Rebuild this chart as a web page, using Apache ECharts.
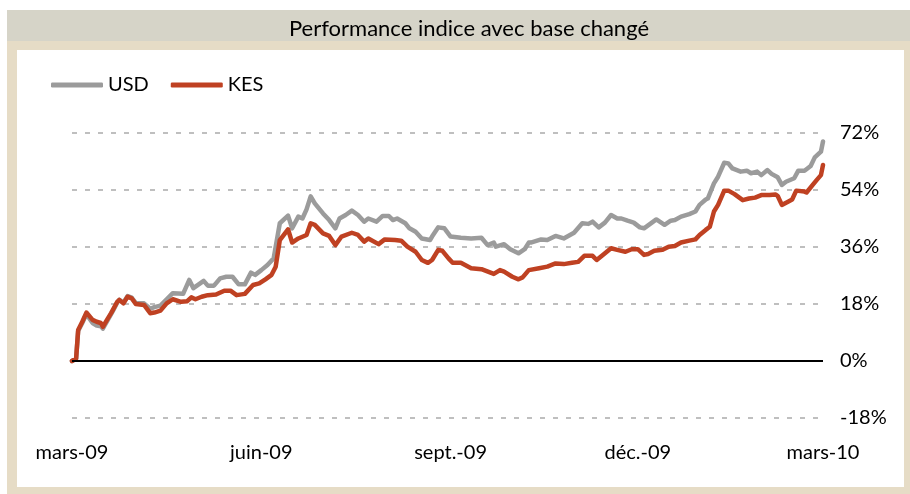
<!DOCTYPE html>
<html>
<head>
<meta charset="utf-8">
<script src="https://cdn.jsdelivr.net/npm/echarts@6/dist/echarts.min.js"></script>
<style>
html,body{margin:0;padding:0;background:#fff;}
#chart{width:910px;height:494px;}
</style>
</head>
<body>
<div id="chart"></div>
<script>
// Days since 1 March 2009, and index performance (%)
var usdDay = [0,2,3,5,7,10,12,14,15,17,19,20,22,23,25,27,29,31,35,38,40,43,46,49,54,57,59,64,66,69,72,75,78,81,84,87,89,92,95,98,101,105,107,110,112,114,116,118,122,125,128,130,133,136,139,142,144,148,151,154,156,158,162,164,167,170,174,175,178,181,184,189,194,199,202,205,206,210,213,217,220,222,223,228,231,235,239,244,248,251,253,256,259,262,265,267,270,273,276,278,281,284,288,291,293,296,300,303,305,308,309,312,314,317,319,321,325,328,330,333,335,338,340,343,345,347,351,353,356,359,361,364,365];
var usdVal = [0,0.8,9.5,12,14.8,12,11.2,11,10.2,12.5,14.8,16,18.5,19.3,18.4,20.5,20,18.3,18.2,16.5,17,17.5,19.5,21.4,21.2,25.6,23,25.3,23.8,23.8,26.1,26.6,26.6,24.2,24.2,27.9,27.2,28.7,30.3,32.4,43.5,45.9,41.9,45.6,45,47.9,52,49.8,46.6,44.5,41.9,45,46.1,47.5,46.1,44,45,44,45.8,45.8,44.5,45,43.5,41.9,40.8,38.7,38.2,39.3,42.2,41.9,39.3,38.9,38.7,38.9,36.6,37.4,36.1,36.9,35.3,34,35.3,37.4,37.4,38.4,38.2,39.5,38.7,40.5,43.5,43.3,44,42.2,43.7,46.1,45,45,44.3,43.7,42.2,41.9,43.3,44.7,43,44.3,44.5,45.6,46.4,47.2,49.3,51,51.3,56.1,58.2,62.6,62.4,60.8,59.8,60.1,59.3,59.8,58.7,60.3,59.1,58,55.6,56.6,57.7,60.1,60.1,61.6,64.3,66.1,69.3];
var kesDay = [0,2,3,5,7,10,12,14,15,17,19,20,22,23,25,27,29,31,35,38,40,43,46,49,53,56,58,60,63,66,70,74,77,80,84,88,91,94,97,99,101,105,107,110,114,116,118,122,125,128,131,136,139,142,144,149,152,157,160,163,167,170,173,175,178,180,183,185,189,194,199,205,208,210,214,217,219,222,227,231,235,239,243,246,249,253,255,258,262,265,269,272,275,278,280,283,287,290,293,296,300,303,305,308,310,312,314,317,319,322,326,329,332,335,339,342,343,345,348,350,352,356,357,360,362,364,365];
var kesVal = [0,0.8,9.8,12.4,15.3,13,12.4,12,10.8,13,15.1,16.3,18.7,19.3,18.2,20.3,19.8,18,17.7,15.1,15.3,15.9,18.2,19.5,18.7,18.9,20.1,19.5,20.3,20.8,21,22.2,22.2,20.8,21.2,24,24.5,25.8,27.2,29.8,38.2,41.6,37.4,38.7,39.8,43.5,43,40.3,39.5,36.6,39.3,40.5,39.8,37.7,38.7,36.9,38.4,38.2,38,36.1,34.5,31.9,31,31.9,35.1,34.8,32.4,31,31,29.3,29,27.5,28.7,28.2,26.6,25.8,26.4,28.7,29.3,29.8,30.8,30.6,31,31.3,33.2,33.2,31.9,33.5,35.6,35.1,34.5,35.3,35.3,33.5,33.8,34.8,35.1,36.1,36.3,37.4,38,38.4,39.8,41.4,42.4,47.2,49.3,53.8,53.8,52.7,50.8,51.3,51.6,52.4,52.4,52.6,52.1,49.3,50.3,51,53.8,53.5,53.2,55.6,57.2,58.7,61.9];
var tickDates = ['2009-03-01','2009-06-01','2009-09-01','2009-12-01','2010-03-01'];
var tickLabels = ['mars-09','juin-09','sept.-09','déc.-09','mars-10'];
var yTicks = [-18,0,18,36,54,72];
var seriesNames = ['USD','KES'];
var titleText = 'Performance indice avec base changé';

function toTime(s){ var p = s.split('-'); return Date.UTC(+p[0], +p[1]-1, +p[2]); }
var t0 = toTime(tickDates[0]);
var tickDays = tickDates.map(function(s){ return Math.round((toTime(s)-t0)/86400000); });
function pairs(days, vals){ return days.map(function(d,i){ return [d, vals[i]]; }); }

var FONT = 'Lato';
var chart = echarts.init(document.getElementById('chart'));
chart.setOption({
  animation:false,
  backgroundColor:'#ffffff',
  graphic:[
    {type:'rect', shape:{x:7,y:41,width:903,height:453}, style:{fill:'#e6dcc6'}, z:-10, silent:true},
    {type:'rect', shape:{x:7,y:10,width:903,height:31}, style:{fill:'#d6d4c8'}, z:-10, silent:true},
    {type:'rect', shape:{x:17,y:50,width:887,height:437}, style:{fill:'#ffffff'}, z:-9, silent:true}
  ],
  title:{text:titleText, left:464, textAlign:'center', top:13,
    textStyle:{fontFamily:FONT, fontSize:22, fontWeight:'normal', color:'#000'}},
  legend:{data:seriesNames, left:46, top:70, itemWidth:52, itemHeight:5, itemGap:22, icon:'roundRect',
    textStyle:{fontFamily:FONT, fontSize:20, color:'#000'}},
  grid:{left:72, right:87, top:133, bottom:76, containLabel:false},
  xAxis:{type:'value', min:tickDays[0], max:tickDays[tickDays.length-1],
    axisLine:{show:false, onZero:false}, axisTick:{show:false}, splitLine:{show:false},
    axisLabel:{customValues:tickDays, margin:25,
      fontFamily:FONT, fontSize:20, color:'#000', hideOverlap:false,
      formatter:function(v){ var i = tickDays.indexOf(Math.round(v)); return i<0 ? '' : tickLabels[i]; }}},
  yAxis:{type:'value', position:'right', min:yTicks[0], max:yTicks[yTicks.length-1], interval:18,
    axisLine:{show:false}, axisTick:{show:false},
    axisLabel:{margin:17, fontFamily:FONT, fontSize:20, color:'#000', formatter:'{value}%'},
    splitLine:{show:true, lineStyle:{color:'#bfbfbf', width:2, type:[5,8]}}},
  series:[
    {name:seriesNames[0], type:'line', data:pairs(usdDay, usdVal), showSymbol:false, symbol:'none',
      lineStyle:{color:'#9b9b9b', width:4.5, cap:'round', join:'round'}, itemStyle:{color:'#9b9b9b'}, z:2,
      markLine:{silent:true, symbol:'none', label:{show:false}, lineStyle:{color:'#000', width:2, type:'solid'}, data:[{yAxis:0}]}},
    {name:seriesNames[1], type:'line', data:pairs(kesDay, kesVal), showSymbol:false, symbol:'none',
      lineStyle:{color:'#bf4122', width:4.5, cap:'round', join:'round'}, itemStyle:{color:'#bf4122'}, z:3}
  ]
});
</script>
</body>
</html>
